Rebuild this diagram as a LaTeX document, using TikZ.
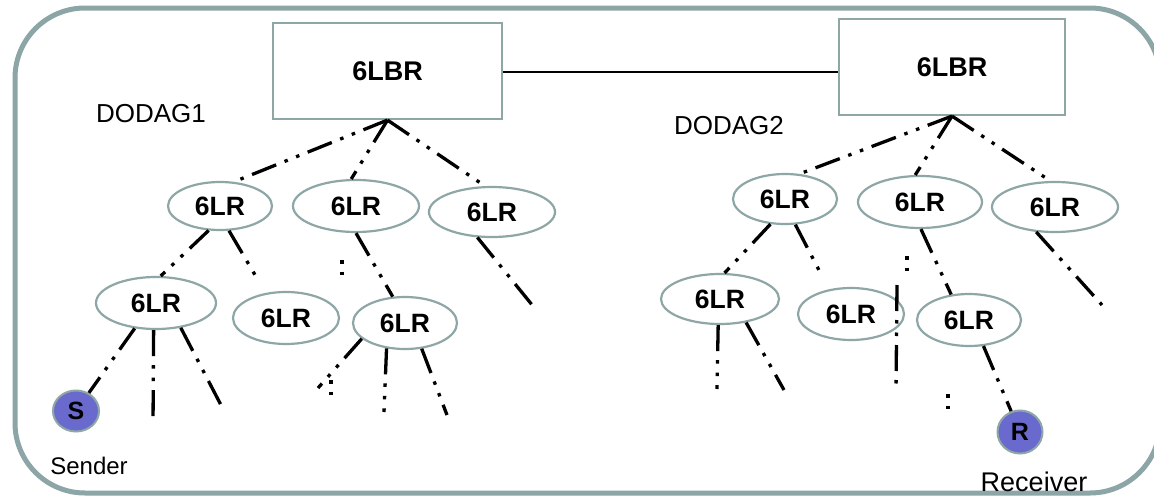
\documentclass[tikz,border=0pt]{standalone}
\usepackage{fontspec}
\setmainfont{Liberation Sans}
\usetikzlibrary{shapes.geometric}
\definecolor{framecol}{RGB}{140,165,167}
\definecolor{edgecol}{RGB}{143,166,166}
\definecolor{endfill}{RGB}{106,106,206}
\begin{document}
\begin{tikzpicture}[x=1pt,y=-1pt,
  frame/.style={draw=framecol,line width=5pt,rounded corners=70pt},
  brbox/.style={draw=edgecol,line width=2.2pt,fill=white,minimum width=229pt,minimum height=96pt,inner sep=0pt,font=\bfseries\fontsize{27}{31}\selectfont},
  rtr/.style={ellipse,draw=edgecol,line width=2.2pt,fill=white,inner sep=0pt,font=\bfseries\fontsize{26.5}{31}\selectfont},
  endpt/.style={ellipse,draw=edgecol,line width=2pt,fill=endfill,inner sep=0pt,minimum width=46pt,minimum height=41pt,font=\bfseries\fontsize{25}{28}\selectfont},
  lbl/.style={inner sep=0pt},
  link/.style={line width=3.3pt,dash pattern=on 26pt off 9pt on 3.5pt off 9pt on 3.5pt off 9pt},
  dotpair/.style={line width=3.5pt,dash pattern=on 3.5pt off 8pt},
  solidlink/.style={line width=2pt}
]
\useasboundingbox (0,0) rectangle (1154,498);
\fill[white] (0,0) rectangle (1154,498);

% outer frame (right side runs past the page edge)
\draw[frame] (15,8) rectangle (1160,493);

% border routers
\node[brbox] (LBR) at (387.5,71) {6LBR};
\node[brbox,minimum width=226pt] (RBR) at (952,67) {6LBR};
\draw[solidlink] ([yshift=-1pt]LBR.east) -- ([yshift=-5pt]RBR.west);

% DODAG labels
\node[lbl,font=\fontsize{26}{30}\selectfont] (D1) at (151,114) {DODAG1};
\node[lbl,font=\fontsize{26}{30}\selectfont] (D2) at (729,126) {DODAG2};

% routers, first level
\node[rtr,minimum width=104pt,minimum height=48pt] (E1) at (220,206) {6LR};
\node[rtr,minimum width=126pt,minimum height=52pt] (E2) at (356,206) {6LR};
\node[rtr,minimum width=126pt,minimum height=50pt] (E3) at (492,212) {6LR};
\node[rtr,minimum width=104pt,minimum height=50pt] (E4) at (785,199) {6LR};
\node[rtr,minimum width=124pt,minimum height=52pt] (E5) at (920,202) {6LR};
\node[rtr,minimum width=126pt,minimum height=50pt] (E6) at (1055,207) {6LR};

% routers, second level
\node[rtr,minimum width=120pt,minimum height=52pt] (E7) at (156,303) {6LR};
\node[rtr,minimum width=106pt,minimum height=52pt] (E8) at (286,318) {6LR};
\node[rtr,minimum width=104pt,minimum height=52pt] (E9) at (405,323) {6LR};
\node[rtr,minimum width=118pt,minimum height=50pt] (E10) at (720,299) {6LR};
\node[rtr,minimum width=106pt,minimum height=52pt] (E11) at (851,314) {6LR};
\node[rtr,minimum width=104pt,minimum height=52pt] (E12) at (969,320) {6LR};

% end points
\node[endpt] (S) at (76,411) {S};
\node[endpt,minimum width=45pt,minimum height=43pt] (R) at (1020,432) {R};
\node[lbl,font=\fontsize{24}{27}\selectfont] (SL) at (89,466) {Sender};
\node[lbl,font=\fontsize{27}{30}\selectfont] (RL) at (1034,482) {Receiver};

% open ends of the branches
\coordinate (d5) at (258,280);
\coordinate (d7) at (537,311);
\coordinate (d9) at (153,425);
\coordinate (d10) at (222,407);
\coordinate (d11) at (318,388);
\coordinate (d12) at (384,412);
\coordinate (d13) at (447,415);
\coordinate (d18) at (822,276);
\coordinate (d20) at (1102,305);
\coordinate (d21) at (717,389);
\coordinate (d22) at (784,390);
\coordinate (v1) at (897,285);
\coordinate (v2) at (896,392);
\coordinate (p1a) at (342,260);
\coordinate (p1b) at (342,276);
\coordinate (p2a) at (331,380);
\coordinate (p2b) at (331,396);
\coordinate (p3a) at (907,256);
\coordinate (p3b) at (907,272);
\coordinate (p4a) at (948,394);
\coordinate (p4b) at (948,410);

% DODAG1 links
\draw[link] (LBR.south) -- (E1.60);
\draw[link] (LBR.south) -- (E2.100);
\draw[link] (LBR.south) -- (E3.105);
\draw[link] (E1.245) -- (E7.80);
\draw[link] (E1.290) -- (d5);
\draw[link] (E2.270) -- (E9.115);
\draw[dotpair] (p1a) -- (p1b);
\draw[link] (E3.240) -- (d7);
\draw[link] (E7.230) -- (S);
\draw[link] (E7.265) -- (d9);
\draw[link] (E7.315) -- (d10);
\draw[link] (E9.200) -- (d11);
\draw[dotpair] (p2a) -- (p2b);
\draw[link] (E9.234) -- (d12);
\draw[link] (E9.303) -- (d13);

% DODAG2 links
\draw[link] (RBR.south) -- (E4.60);
\draw[link] (RBR.south) -- (E5.100);
\draw[link] (RBR.south) -- (E6.100);
\draw[link] (E4.240) -- (E10.80);
\draw[link] (E4.292) -- (d18);
\draw[link] (E5.272) -- (E12.125);
\draw[dotpair] (p3a) -- (p3b);
\draw[link] (E6.233) -- (d20);
\draw[link] (E10.266) -- (d21);
\draw[link] (E10.318) -- (d22);
\draw[link] (v1) -- (v2);
\draw[dotpair] (p4a) -- (p4b);
\draw[link] (E12.299) -- (R);
\end{tikzpicture}
\end{document}
